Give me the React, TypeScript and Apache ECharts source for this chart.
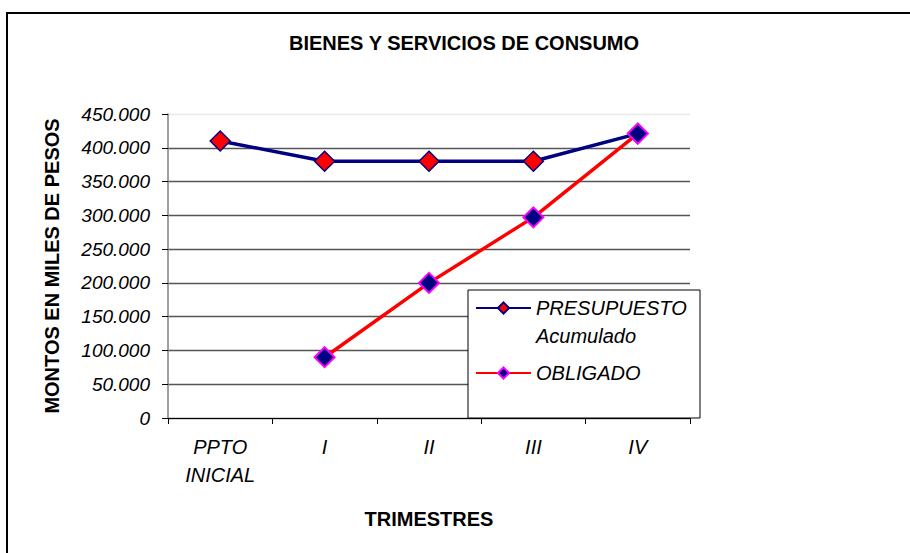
import React, { useEffect, useRef } from "react";
import * as echarts from "echarts";

const chartTitle = "BIENES Y SERVICIOS DE CONSUMO";
const xAxisTitle = "TRIMESTRES";
const yAxisTitle = "MONTOS EN MILES DE PESOS";
const categories = ["PPTO\nINICIAL", "I", "II", "III", "IV"];
const presupuestoName = "PRESUPUESTO Acumulado";
const presupuesto = [410000, 380000, 380000, 380000, 421000];
const obligadoName = "OBLIGADO";
const obligado: (number | null)[] = [null, 90000, 200000, 297000, 421000];
const yMin = 0;
const yMax = 450000;
const yInterval = 50000;

const FONT = "'Liberation Sans', Arial, sans-serif";

function fmt(v: number): string {
  return String(v).replace(/\B(?=(\d{3})+(?!\d))/g, ".");
}

export default function App() {
  const ref = useRef<HTMLDivElement>(null);
  useEffect(() => {
    if (!ref.current) return;
    const chart = echarts.init(ref.current, null, { renderer: "svg" });
    const gridColors = [
      "#555555", "#555555", "#555555", "#555555", "#555555",
      "#555555", "#555555", "#555555", "#555555", "#e8e8e8",
    ];
    chart.setOption({
      animation: false,
      backgroundColor: "#ffffff",
      title: {
        text: chartTitle,
        left: 289,
        top: 33,
        padding: 0,
        textStyle: { fontFamily: FONT, fontSize: 20, fontWeight: "bold", color: "#000" },
      },
      grid: { left: 168, right: 220, top: 114, bottom: 135, containLabel: false },
      xAxis: {
        type: "category",
        data: categories,
        boundaryGap: true,
        name: xAxisTitle,
        nameLocation: "middle",
        nameGap: 91,
        nameTextStyle: { fontFamily: FONT, fontSize: 20, fontWeight: "bold", color: "#000" },
        axisLine: { show: true, lineStyle: { color: "#000", width: 1 } },
        axisTick: { show: true, length: 6, alignWithLabel: false, lineStyle: { color: "#000" } },
        axisLabel: {
          fontFamily: FONT,
          fontSize: 20,
          fontStyle: "italic",
          color: "#000",
          lineHeight: 28,
          margin: 15,
          interval: 0,
        },
        splitLine: { show: false },
      },
      yAxis: {
        type: "value",
        min: yMin,
        max: yMax,
        interval: yInterval,
        name: yAxisTitle,
        nameLocation: "middle",
        nameRotate: 90,
        nameGap: 106,
        nameTextStyle: { fontFamily: FONT, fontSize: 20, fontWeight: "bold", color: "#000" },
        axisLine: { show: true, lineStyle: { color: "#808080", width: 1.5 } },
        axisTick: { show: true, length: 6, lineStyle: { color: "#000" } },
        axisLabel: {
          fontFamily: FONT,
          fontSize: 19,
          fontStyle: "italic",
          color: "#000",
          margin: 18,
          formatter: (v: number) => fmt(v),
        },
        splitLine: { show: true, lineStyle: { color: gridColors, width: 1.3 } },
      },
      legend: [
        {
          data: [presupuestoName],
          formatter: () => " \nPRESUPUESTO\nAcumulado",
          orient: "vertical",
          left: 475,
          top: 266,
          padding: 0,
          itemWidth: 55,
          itemHeight: 14,
          z: 10,
          textStyle: { fontFamily: FONT, fontSize: 20, fontStyle: "italic", color: "#000", lineHeight: 28 },
        },
        {
          data: [obligadoName],
          orient: "vertical",
          left: 475,
          top: 359,
          padding: 0,
          itemWidth: 55,
          itemHeight: 14,
          z: 10,
          textStyle: { fontFamily: FONT, fontSize: 20, fontStyle: "italic", color: "#000", lineHeight: 28 },
        },
      ],
      graphic: [
        {
          type: "rect",
          z: 9,
          shape: { x: 468, y: 290, width: 232, height: 128 },
          style: { fill: "#ffffff", stroke: "#000", lineWidth: 1 },
        },
        {
          type: "rect",
          z: -1,
          silent: true,
          shape: { x: 7, y: 13, width: 1000, height: 1000 },
          style: { fill: "none", stroke: "#000", lineWidth: 2 },
        },
      ],
      series: [
        {
          name: presupuestoName,
          type: "line",
          data: presupuesto,
          symbol: "diamond",
          symbolSize: 20,
          lineStyle: { color: "#000080", width: 3.5 },
          itemStyle: { color: "#ff0000", borderColor: "#000080", borderWidth: 1.5 },
          z: 3,
        },
        {
          name: obligadoName,
          type: "line",
          data: obligado,
          symbol: "diamond",
          symbolSize: 20,
          connectNulls: false,
          lineStyle: { color: "#ff0000", width: 3.5 },
          itemStyle: { color: "#000080", borderColor: "#ff00ff", borderWidth: 2 },
          z: 4,
        },
      ],
    });
    return () => chart.dispose();
  }, []);
  return (
    <div
      ref={ref}
      style={{ position: "fixed", left: 0, top: 0, width: 910, height: 553, background: "#fff" }}
    />
  );
}
